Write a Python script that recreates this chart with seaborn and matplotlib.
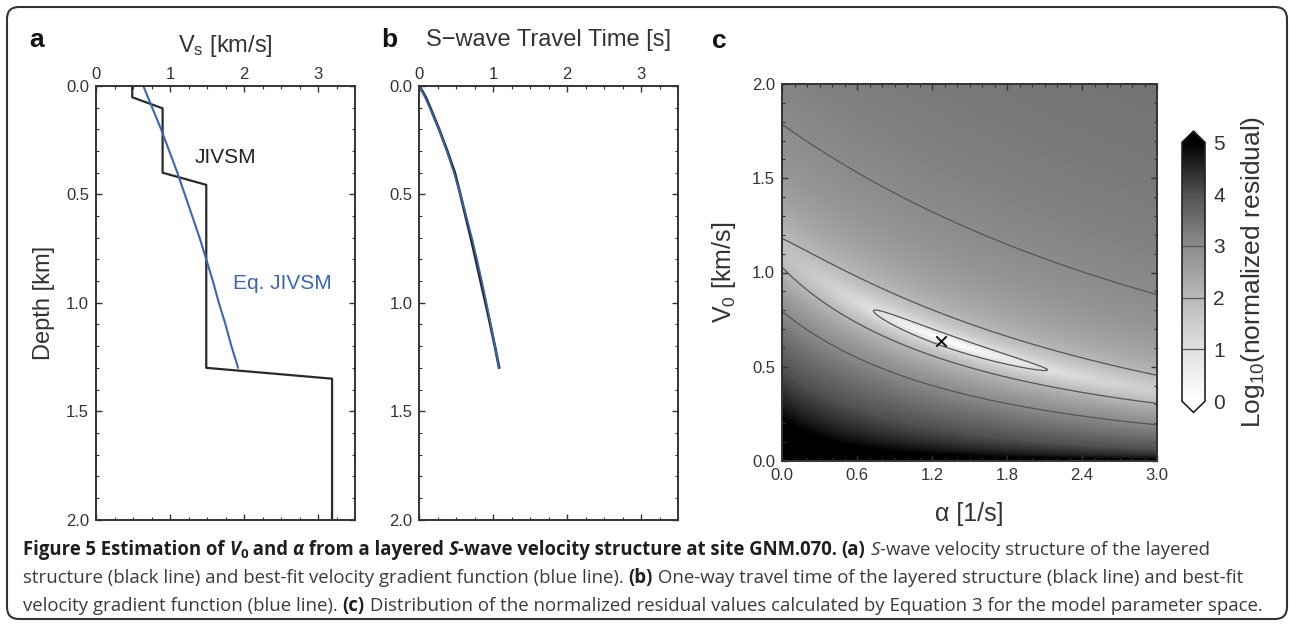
import numpy as np
import matplotlib
matplotlib.use("Agg")
import matplotlib.pyplot as plt
from matplotlib.patches import FancyBboxPatch
from matplotlib.transforms import IdentityTransform
from matplotlib.font_manager import FontProperties
from matplotlib.ticker import MultipleLocator, FormatStrFormatter
from matplotlib.colors import LinearSegmentedColormap
import seaborn as sns
import pandas as pd

# ---------------- data ----------------
# (a) layered S-wave velocity structure (JIVSM) : polyline vertices
layer_depth = [0.0, 0.052, 0.103, 0.40, 0.456, 1.30, 1.35, 2.0]
layer_vs = [0.49, 0.49, 0.90, 0.90, 1.49, 1.49, 3.19, 3.19]
# best-fit velocity gradient function (Eq. JIVSM)
eq_depth = [0.0, 0.1, 0.2, 0.3, 0.4, 0.5, 0.6, 0.7, 0.8, 0.9, 1.0, 1.1, 1.2, 1.3]
eq_vs = [0.64, 0.76, 0.88, 0.99, 1.10, 1.20, 1.30, 1.40, 1.49, 1.58, 1.66, 1.75, 1.83, 1.92]

# (b) one-way S-wave travel time
tt_depth = [0.0, 0.05, 0.1, 0.2, 0.3, 0.4, 0.5, 0.6, 0.7, 0.8, 0.9, 1.0, 1.1, 1.2, 1.3]
tt_layer = [0.0, 0.085, 0.148, 0.268, 0.378, 0.480, 0.555, 0.625, 0.696, 0.763, 0.828, 0.895, 0.959, 1.021, 1.079]
tt_eq = [0.0, 0.075, 0.143, 0.265, 0.372, 0.468, 0.556, 0.636, 0.711, 0.781, 0.846, 0.908, 0.967, 1.023, 1.076]

# (c) parameter space and best fit
alpha_range = (0.0, 3.0)
v0_range = (0.0, 2.0)
best_alpha = 1.27
best_v0 = 0.634
gradient_exponent = 0.72          # shape of the gradient function fitted in (a)
contour_levels = [1, 2, 3, 4]
cbar_ticks = [0, 1, 2, 3, 4, 5]
# grey levels of the colour bar at 0, 1, 2, 3, 4, 5
cbar_greys = ["#ffffff", "#e0e0e0", "#b9b9b9", "#8c8c8c", "#525252", "#000000"]

a_xticks = [0, 1, 2, 3]
depth_ticks = [0.0, 0.5, 1.0, 1.5, 2.0]
c_xticks = [0.0, 0.6, 1.2, 1.8, 2.4, 3.0]
c_yticks = [0.0, 0.5, 1.0, 1.5, 2.0]

# ---------------- style ----------------
sns.set_theme(style="ticks")
plt.rcParams.update({
    "font.family": ["Liberation Sans", "DejaVu Sans"],
    "mathtext.fontset": "custom",
    "mathtext.rm": "Liberation Sans",
    "mathtext.it": "Liberation Sans:italic",
    "axes.edgecolor": "#333333",
    "axes.linewidth": 1.4,
    "xtick.direction": "in",
    "ytick.direction": "in",
    "xtick.color": "#333333",
    "ytick.color": "#333333",
    "xtick.labelcolor": "#333333",
    "ytick.labelcolor": "#333333",
    "xtick.major.size": 4.5,
    "ytick.major.size": 4.5,
    "xtick.minor.size": 2.5,
    "ytick.minor.size": 2.5,
    "xtick.major.width": 1.0,
    "ytick.major.width": 1.0,
    "xtick.minor.width": 0.8,
    "ytick.minor.width": 0.8,
    "xtick.labelsize": 12,
    "ytick.labelsize": 12,
    "axes.labelcolor": "#333333",
})

W, H = 1292, 624
fig = plt.figure(figsize=(W / 100, H / 100), dpi=100)
fig.patch.set_facecolor("white")


def px_axes(left, top, right, bottom):
    return fig.add_axes([left / W, 1 - bottom / H, (right - left) / W, (bottom - top) / H])


ax_a = px_axes(96, 86, 355, 519.6)
ax_b = px_axes(419.3, 86, 678.3, 519.6)
ax_c = px_axes(782, 84, 1157, 461)
cax = px_axes(1182, 131.2, 1205, 412.4)

blue = "#3a66b8"
black = "#2a2a2a"

# ---------------- panel a ----------------
df_layer = pd.DataFrame({"vs": layer_vs, "depth": layer_depth})
df_eq = pd.DataFrame({"vs": eq_vs, "depth": eq_depth})
sns.lineplot(data=df_layer, x="vs", y="depth", sort=False, estimator=None,
             color=black, lw=1.6, ax=ax_a)
sns.lineplot(data=df_eq, x="vs", y="depth", sort=False, estimator=None,
             color=blue, lw=1.5, ax=ax_a)
ax_a.text(1.75, 0.33, "JIVSM", color="#222222", fontsize=15, ha="center", va="center")
ax_a.text(1.85, 0.91, "Eq. JIVSM", color=blue, fontsize=15, ha="left", va="center")

# ---------------- panel b ----------------
df_tt_layer = pd.DataFrame({"t": tt_layer, "depth": tt_depth})
df_tt_eq = pd.DataFrame({"t": tt_eq, "depth": tt_depth})
sns.lineplot(data=df_tt_layer, x="t", y="depth", sort=False, estimator=None,
             color=black, lw=2.0, ax=ax_b)
sns.lineplot(data=df_tt_eq, x="t", y="depth", sort=False, estimator=None,
             color=blue, lw=1.2, ax=ax_b)

for ax in (ax_a, ax_b):
    ax.set_xlim(0, 3.5)
    ax.set_ylim(2.0, 0.0)
    ax.set_xticks(a_xticks)
    ax.set_yticks(depth_ticks)
    ax.yaxis.set_major_formatter(FormatStrFormatter("%.1f"))
    ax.xaxis.set_minor_locator(MultipleLocator(0.25))
    ax.yaxis.set_minor_locator(MultipleLocator(0.1))
    ax.tick_params(which="both", top=True, bottom=True, left=True, right=True,
                   labeltop=True, labelbottom=False)
    ax.tick_params(axis="x", pad=3)
    ax.tick_params(axis="y", pad=5)
    ax.xaxis.set_label_position("top")
    ax.set_ylabel("")
    ax.set_xlabel("")
    for s in ax.spines.values():
        s.set_visible(True)

ax_a.set_xlabel(r"V$_\mathrm{s}$ [km/s]", fontsize=17, labelpad=11)
ax_a.set_ylabel("Depth [km]", fontsize=17, labelpad=8)

fig.text(37 / W, 1 - 40 / H, "a", fontsize=19, fontweight="bold", ha="center", va="center", color="#111111")
fig.text(389 / W, 1 - 40 / H, "b", fontsize=19, fontweight="bold", ha="center", va="center", color="#111111")
fig.text(548 / W, 1 - 40 / H, "S\u2212wave Travel Time [s]", fontsize=17, ha="center", va="center", color="#333333")
fig.text(719 / W, 1 - 41 / H, "c", fontsize=19, fontweight="bold", ha="center", va="center", color="#111111")

# ---------------- panel c ----------------
alpha_vals = np.linspace(alpha_range[0] + 1e-3, alpha_range[1], 301)
v0_vals = np.linspace(v0_range[0] + 5e-3, v0_range[1], 400)
A, V = np.meshgrid(alpha_vals, v0_vals)
z = np.asarray(tt_depth)[None, None, :]
t_obs = np.asarray(tt_layer)[None, None, :]
n = gradient_exponent
k = A[..., None] / (n * V[..., None])
t_mod = ((1 + k * z) ** (1 - n) - 1) / (V[..., None] * k * (1 - n))
resid = np.mean((t_obs - t_mod) ** 2, axis=-1)
log_res = np.log10(resid / resid.min())

cmap = LinearSegmentedColormap.from_list("resid_greys", cbar_greys)
im = ax_c.imshow(log_res, origin="lower", aspect="auto", cmap=cmap,
                 vmin=0, vmax=5, interpolation="bilinear",
                 extent=[alpha_vals[0], alpha_vals[-1], v0_vals[0], v0_vals[-1]])
cs = ax_c.contour(A, V, log_res, levels=contour_levels, colors="#555555",
                  linewidths=0.9)
ax_c.scatter([best_alpha], [best_v0], marker="x", s=55, color="#111111",
             linewidths=1.4, zorder=5)
ax_c.set_xlim(*alpha_range)
ax_c.set_ylim(*v0_range)
ax_c.set_xticks(c_xticks)
ax_c.set_yticks(c_yticks)
ax_c.xaxis.set_major_formatter(FormatStrFormatter("%.1f"))
ax_c.yaxis.set_major_formatter(FormatStrFormatter("%.1f"))
ax_c.xaxis.set_minor_locator(MultipleLocator(0.1))
ax_c.yaxis.set_minor_locator(MultipleLocator(0.1))
ax_c.tick_params(which="both", top=True, bottom=True, left=True, right=True)
ax_c.tick_params(axis="x", pad=5)
ax_c.tick_params(axis="y", pad=5)
ax_c.set_xlabel("\u03b1 [1/s]", fontsize=18, labelpad=14)
ax_c.set_ylabel(r"V$_\mathrm{0}$ [km/s]", fontsize=18, labelpad=10)
for s in ax_c.spines.values():
    s.set_visible(True)

cb = fig.colorbar(im, cax=cax, extend="both", extendfrac=0.043, ticks=cbar_ticks)
cb.outline.set_linewidth(1.2)
cb.outline.set_edgecolor("#222222")
cb.add_lines(cs)
cb.ax.tick_params(length=0, labelsize=15, pad=6)
cb.set_label(r"Log$_{10}$(normalized residual)", fontsize=19, labelpad=10, color="#333333")

# ---------------- frame and caption ----------------
frame = FancyBboxPatch((7, 5), 1280, 612, boxstyle="round,pad=0,rounding_size=12",
                       transform=IdentityTransform(), fill=False,
                       edgecolor="#333333", linewidth=1.5)
fig.add_artist(frame)

renderer = fig.canvas.get_renderer()


def fp(weight="normal", style="normal", size=12.0):
    return FontProperties(family=["Open Sans", "DejaVu Sans"], weight=weight, style=style, size=size)


def advance(txt, prop):
    w1 = renderer.get_text_width_height_descent("|" + txt + "|", prop, ismath=False)[0]
    w0 = renderer.get_text_width_height_descent("||", prop, ismath=False)[0]
    return w1 - w0


# calibrate caption sizes on the widths measured in the reference
ref_size = 12.0
reg_size = ref_size * 398.0 / advance("structure (black line) and best-fit velocity gradi", fp(size=ref_size))
bold_prefix = (advance("Figure 5 Estimation of ", fp("bold", size=ref_size))
               + advance("V", fp("bold", "italic", ref_size))
               + advance("0", fp("bold", size=ref_size * 0.72))
               + advance(" and ", fp("bold", size=ref_size))
               + advance("\u03b1", fp("bold", "italic", ref_size))
               + advance(" from a ", fp("bold", size=ref_size)))
bold_size = 0.94 * ref_size * 373.0 / bold_prefix


def draw_line(x, y, segments):
    for txt, weight, style, color, dy, scale, base in segments:
        prop = fp(weight, style, base * scale)
        fig.text(x / W, 1 - (y + dy) / H, txt, fontproperties=prop, color=color,
                 ha="left", va="baseline")
        x += advance(txt, prop)


bold_c = "#1e1e1e"
reg_c = "#3a3a3a"
B = "bold"
R = "normal"
bs, rs = bold_size, reg_size
line1 = [
    ("Figure 5 Estimation of ", B, "normal", bold_c, 0, 1.0, bs),
    ("V", B, "italic", bold_c, 0, 1.0, bs),
    ("0", B, "normal", bold_c, 3, 0.72, bs),
    (" and ", B, "normal", bold_c, 0, 1.0, bs),
    ("\u03b1", B, "italic", bold_c, 0, 1.0, bs),
    (" from a layered ", B, "normal", bold_c, 0, 1.0, bs),
    ("S", B, "italic", bold_c, 0, 1.0, bs),
    ("-wave velocity structure at site GNM.070. ", B, "normal", bold_c, 0, 1.0, bs),
    ("(a)", B, "normal", bold_c, 0, 1.0, rs),
    (" ", R, "normal", reg_c, 0, 1.0, rs),
    ("S", R, "italic", reg_c, 0, 1.0, rs),
    ("-wave velocity structure of the layered", R, "normal", reg_c, 0, 1.0, rs),
]
line2 = [
    ("structure (black line) and best-fit velocity gradient function (blue line). ", R, "normal", reg_c, 0, 1.0, rs),
    ("(b)", B, "normal", bold_c, 0, 1.0, rs),
    (" One-way travel time of the layered structure (black line) and best-fit", R, "normal", reg_c, 0, 1.0, rs),
]
line3 = [
    ("velocity gradient function (blue line). ", R, "normal", reg_c, 0, 1.0, rs),
    ("(c)", B, "normal", bold_c, 0, 1.0, rs),
    (" Distribution of the normalized residual values calculated by Equation 3 for the model parameter space.",
     R, "normal", reg_c, 0, 1.0, rs),
]
draw_line(23, 555, line1)
draw_line(23, 583, line2)
draw_line(23, 611, line3)

fig.savefig("out.png", dpi=100)
